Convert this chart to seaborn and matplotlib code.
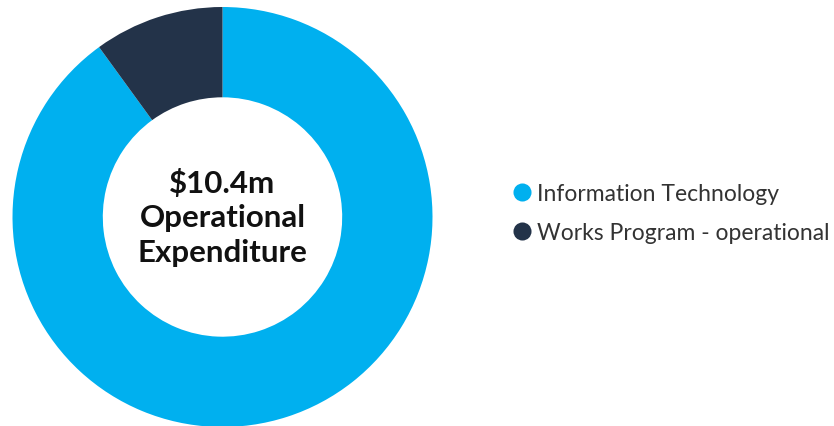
import matplotlib
matplotlib.use("Agg")
import matplotlib.pyplot as plt
from matplotlib.lines import Line2D
import seaborn as sns

categories = ["Information Technology", "Works Program - operational"]
values = [9.36, 1.04]
colors = ["#00B0EF", "#233349"]

sns.set_theme(style="white")
plt.rcParams['font.family'] = ['Lato', 'DejaVu Sans']

W, H = 834, 427
fig = plt.figure(figsize=(W / 100, H / 100), dpi=100)
fig.patch.set_facecolor("white")

cx, cy, r = 222.5, 427 - 218, 210
ax = fig.add_axes([(cx - r) / W, (cy - r) / H, 2 * r / W, 2 * r / H])
pal = sns.color_palette(colors)
ax.pie(values, colors=pal, startangle=90, counterclock=False,
       wedgeprops=dict(width=0.43, linewidth=0), radius=1)
ax.set_xlim(-1, 1)
ax.set_ylim(-1, 1)
ax.set_aspect("equal")
ax.axis("off")

ax.text(0, 0, "\\$10.4m\nOperational\nExpenditure", ha="center", va="center",
        fontsize=22.5, fontweight="bold", color="#111111", linespacing=1.3)

handles = [Line2D([0], [0], marker="o", linestyle="", markersize=13,
                  markerfacecolor=c, markeredgewidth=0) for c in colors]
fig.legend(handles, categories, loc="center left",
           bbox_to_anchor=(490 / W, 1 - 214 / H), frameon=False,
           fontsize=16.5, labelcolor="#333333", handletextpad=0.15,
           labelspacing=0.75, handlelength=1.0)

fig.savefig("out.png", dpi=100, facecolor="white")
